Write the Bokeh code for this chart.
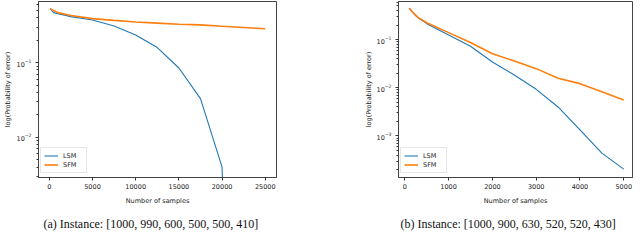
from bokeh.plotting import figure
from bokeh.layouts import row
from bokeh.models import FixedTicker, Range1d, Legend, LegendItem, Title
from bokeh.embed import file_html
from bokeh.resources import INLINE

# ---------------- data ----------------
samples_a = [100, 500, 1000, 2500, 5000, 7500, 10000, 12500, 15000, 17500, 20000, 22500]
lsm_a = [0.53, 0.47, 0.455, 0.415, 0.375, 0.31, 0.235, 0.16, 0.085, 0.033, 0.004, 1e-12]
samples_a_sfm = [100, 500, 1000, 2500, 5000, 7500, 10000, 12500, 15000, 17500, 20000, 22500, 25000]
sfm_a = [0.53, 0.50, 0.47, 0.43, 0.39, 0.37, 0.352, 0.34, 0.328, 0.322, 0.308, 0.297, 0.286]

samples_b = [100, 200, 300, 500, 1000, 1500, 2000, 2500, 3000, 3500, 4000, 4500, 5000]
lsm_b = [0.45, 0.35, 0.285, 0.215, 0.125, 0.0727, 0.0344, 0.0185, 0.0093, 0.0040, 0.00133, 0.00044, 0.000204]
sfm_b = [0.45, 0.355, 0.29, 0.225, 0.14, 0.087, 0.051, 0.036, 0.025, 0.0158, 0.0122, 0.0083, 0.0056]

xticks_a = [0, 5000, 10000, 15000, 20000, 25000]
yticks_a = [0.01, 0.1]
xticks_b = [0, 1000, 2000, 3000, 4000, 5000]
yticks_b = [0.001, 0.01, 0.1]
minor_mantissas = [2, 3, 4, 5, 6, 7, 8, 9]
decades = [1e-4, 1e-3, 1e-2, 1e-1]
minor_y = [m * d for d in decades for m in minor_mantissas]

caption_a = "(a) Instance: [1000, 990, 600, 500, 500, 410]"
caption_b = "(b) Instance: [1000, 900, 630, 520, 520, 430]"
xlabel = "Number of samples"
ylabel = "log(Probability of error)"
series_names = ["LSM", "SFM"]
colors = ["#1f77b4", "#ff7f0e"]

FONT = "DejaVu Sans"
TXT = "#222222"


def make(fw, bl, br, xr, yr, xt, yt, lsm_x, lsm_y, sfm_x, sfm_y, caption,
         cap_x, ylab_standoff, tick_standoff):
    p = figure(frame_width=fw, frame_height=176, y_axis_type="log",
               x_range=Range1d(*xr), y_range=Range1d(*yr),
               output_backend="svg", toolbar_location=None,
               min_border_left=bl, min_border_right=br,
               min_border_top=1, min_border_bottom=53)
    p.grid.visible = False
    p.outline_line_color = "#444444"
    p.outline_line_width = 1
    p.background_fill_color = "white"
    p.border_fill_color = "white"

    r1 = p.line(lsm_x, lsm_y, line_color=colors[0], line_width=1.1)
    r2 = p.line(sfm_x, sfm_y, line_color=colors[1], line_width=1.6)

    p.xaxis.ticker = FixedTicker(ticks=xt)
    p.yaxis.ticker = FixedTicker(ticks=yt, minor_ticks=minor_y)
    for ax in (p.xaxis[0], p.yaxis[0]):
        ax.axis_line_color = "#444444"
        ax.major_tick_line_color = "#333333"
        ax.minor_tick_line_color = "#333333"
        ax.major_tick_out = 3
        ax.major_tick_in = 0
        ax.minor_tick_out = 2
        ax.minor_tick_in = 0
        ax.major_label_text_font = FONT
        ax.major_label_text_font_size = "6.5px"
        ax.major_label_text_color = TXT
        ax.axis_label_text_font = FONT
        ax.axis_label_text_font_size = "6.5px"
        ax.axis_label_text_font_style = "normal"
        ax.axis_label_text_color = TXT
    p.xaxis.minor_tick_line_color = None
    p.xaxis.major_label_standoff = 3
    p.xaxis.axis_label = xlabel
    p.xaxis.axis_label_standoff = 5
    p.yaxis.axis_label = ylabel
    p.yaxis.major_label_standoff = tick_standoff
    p.yaxis.axis_label_standoff = ylab_standoff

    legend = Legend(items=[LegendItem(label=series_names[0], renderers=[r1]),
                           LegendItem(label=series_names[1], renderers=[r2])],
                    location=(2, 4))
    legend.label_text_font = FONT
    legend.label_text_font_size = "6.5px"
    legend.label_text_color = TXT
    legend.glyph_width = 14
    legend.glyph_height = 9
    legend.label_height = 9
    legend.spacing = 0
    legend.padding = 3
    legend.margin = 0
    legend.label_standoff = 5
    legend.border_line_color = "#d0d0d0"
    legend.border_line_width = 1
    legend.background_fill_alpha = 0.85
    p.add_layout(legend)

    cap = Title(text=caption, align="left", offset=cap_x, standoff=15,
                text_font="Liberation Serif", text_font_size="12px",
                text_font_style="normal", text_color="#111111")
    p.add_layout(cap, "below")
    return p


p1 = make(238, 29, 43, (-1250, 26300), (0.0029, 0.662), xticks_a, yticks_a,
          samples_a, lsm_a, samples_a_sfm, sfm_a, caption_a, 5, 2, 4)
p2 = make(234, 79, 1, (-145, 5200), (1.37e-4, 0.62), xticks_b, yticks_b,
          samples_b, lsm_b, samples_b, sfm_b, caption_b, 2, 1, 4)

layout = row(p1, p2, spacing=0)
open("out.html", "w").write(file_html(layout, INLINE))
